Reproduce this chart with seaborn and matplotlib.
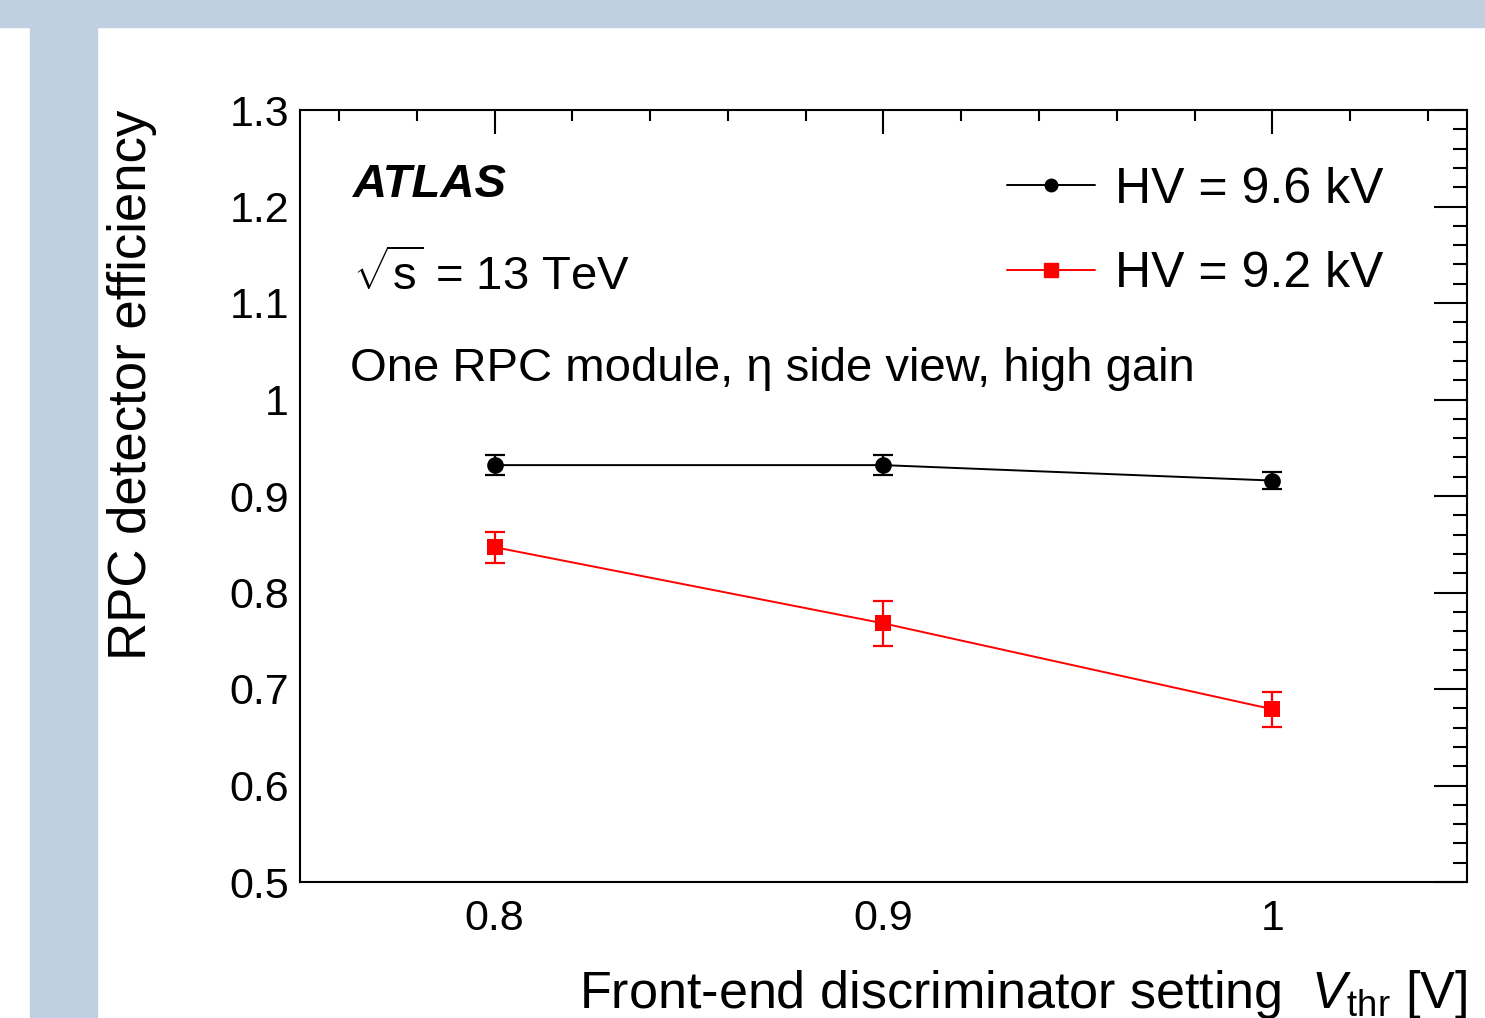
import numpy as np
import pandas as pd
import matplotlib
matplotlib.use("Agg")
import matplotlib.pyplot as plt
import seaborn as sns
from matplotlib.lines import Line2D
from matplotlib.patches import Rectangle
from matplotlib.ticker import MultipleLocator

# ==========================================================
# Data
# ==========================================================

thresholds = [0.8, 0.9, 1.0]

eff_96 = [0.932, 0.932, 0.916]
err_96 = [0.010, 0.010, 0.009]

eff_92 = [0.847, 0.768, 0.679]
err_92 = [0.016, 0.023, 0.018]

labels = ["HV = 9.6 kV", "HV = 9.2 kV"]
colors = ["black", "#ff0000"]

df = pd.DataFrame({
    "vthr": thresholds * 2,
    "eff": eff_96 + eff_92,
    "err": err_96 + err_92,
    "hv": [labels[0]] * 3 + [labels[1]] * 3,
})

# ==========================================================
# Style
# ==========================================================

sns.set_theme(style="white")
plt.rcParams["font.family"] = ["Liberation Sans", "DejaVu Sans"]
plt.rcParams["mathtext.fontset"] = "custom"
plt.rcParams["mathtext.rm"] = "Liberation Sans"
plt.rcParams["mathtext.it"] = "Liberation Sans:italic"
plt.rcParams["mathtext.bf"] = "Liberation Sans:bold"
for key in ["text.color", "axes.labelcolor", "xtick.color", "ytick.color",
            "xtick.labelcolor", "ytick.labelcolor"]:
    plt.rcParams[key] = "black"

fig = plt.figure(figsize=(14.85, 10.18), dpi=100, facecolor="white")

# slide background strips
bg = "#c0d0e2"
fig.patches.append(Rectangle((0, 1 - 27 / 1018), 1, 27 / 1018,
                             transform=fig.transFigure, color=bg, zorder=0))
fig.patches.append(Rectangle((30 / 1485, 0), 67 / 1485, 1 - 27 / 1018,
                             transform=fig.transFigure, color=bg, zorder=0))

ax = fig.add_axes([300 / 1485, 136 / 1018, 1167 / 1485, 772 / 1018])

# ==========================================================
# Plot
# ==========================================================

sns.lineplot(data=df, x="vthr", y="eff", hue="hv", style="hv",
             palette=colors, markers=["o", "s"], dashes=False,
             markersize=12, markeredgewidth=0, linewidth=1.4,
             legend=False, ax=ax, zorder=3)

for lab, col in zip(labels, colors):
    sub = df[df["hv"] == lab]
    ax.errorbar(sub["vthr"], sub["eff"], yerr=sub["err"], fmt="none",
                ecolor=col, elinewidth=1.6, capsize=7, capthick=1.6, zorder=2)

ax.set_xlim(0.75, 1.05)
ax.set_ylim(0.5, 1.3)
ax.xaxis.set_minor_locator(MultipleLocator(0.02))
ax.yaxis.set_minor_locator(MultipleLocator(0.02))
ax.set_xticks([0.8, 0.9, 1.0])
ax.set_xticklabels(["0.8", "0.9", "1"])
ax.set_yticks([0.5, 0.6, 0.7, 0.8, 0.9, 1.0, 1.1, 1.2, 1.3])
ax.set_yticklabels(["0.5", "0.6", "0.7", "0.8", "0.9", "1", "1.1", "1.2", "1.3"])

for s in ax.spines.values():
    s.set_linewidth(1.5)
    s.set_color("black")

ax.tick_params(which="both", direction="in", top=True, right=True,
               width=1.5, color="black", labelsize=31)
ax.tick_params(axis="y", which="major", length=24, pad=8)
ax.tick_params(axis="y", which="minor", length=10)
ax.tick_params(axis="x", which="major", length=17, pad=12)
ax.tick_params(axis="x", which="minor", length=8)

ax.set_xlabel(r"Front-end discriminator setting  $V_{\mathrm{thr}}$ [V]",
              fontsize=37.5, loc="right", labelpad=21)
ax.set_ylabel("RPC detector efficiency", fontsize=38, loc="top", labelpad=52)

ax.text(0.045, 0.903, "ATLAS", transform=ax.transAxes, fontsize=34,
        fontweight="bold", fontstyle="italic", va="center")
ax.text(0.045, 0.785, r"$\sqrt{\mathrm{s}}$ = 13 TeV", transform=ax.transAxes,
        fontsize=34, va="center")
ax.text(0.043, 0.664, "One RPC module, η side view, high gain",
        transform=ax.transAxes, fontsize=34, va="center")

handles = [
    Line2D([], [], color="black", marker="o", markersize=9, linewidth=1.4),
    Line2D([], [], color="#ff0000", marker="s", markersize=10, linewidth=1.4),
]
ax.legend(handles, labels, loc="upper right", bbox_to_anchor=(0.967, 0.985),
          frameon=False, fontsize=36, handlelength=1.75, handletextpad=0.4,
          labelspacing=0.77)

fig.savefig("out.png", dpi=100, facecolor=fig.get_facecolor())
